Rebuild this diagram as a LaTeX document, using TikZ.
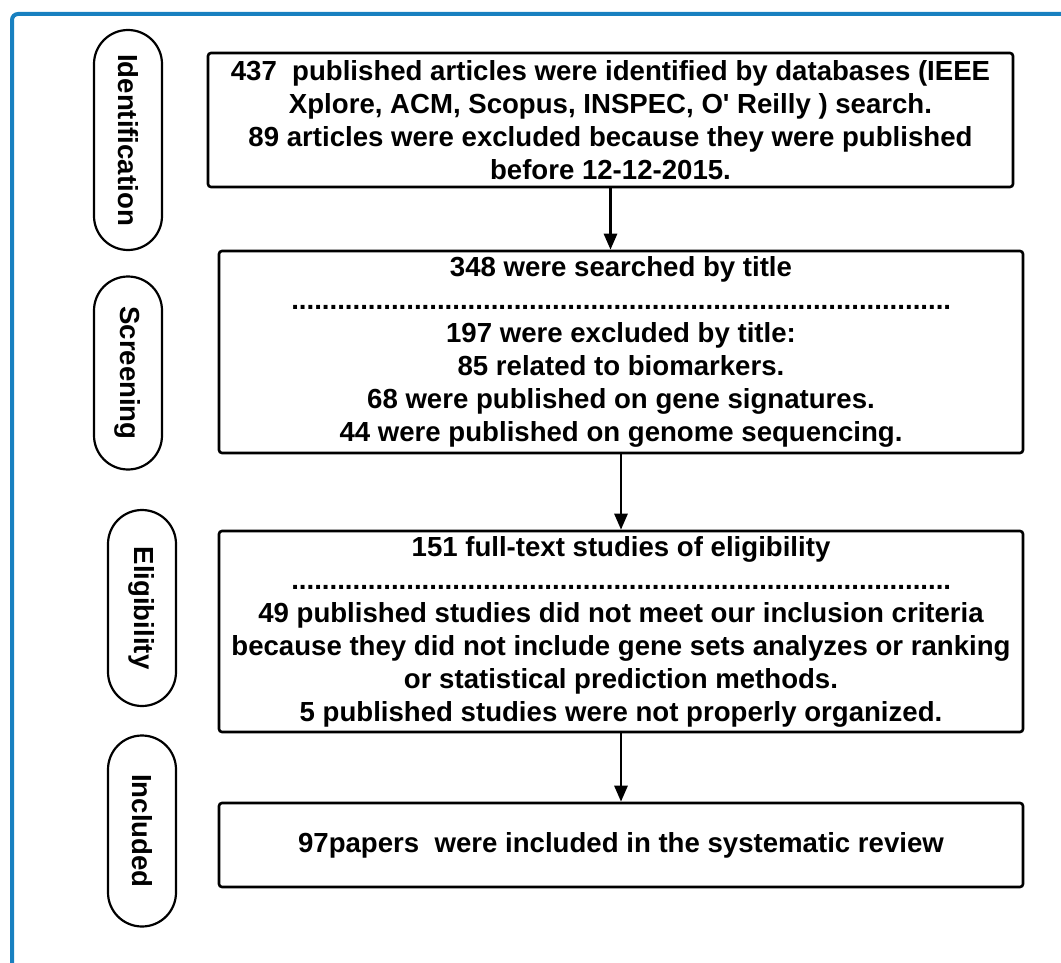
\documentclass[tikz,border=0pt]{standalone}
\usepackage{fontspec}
\setmainfont{Liberation Sans}
\usetikzlibrary{arrows.meta}
\definecolor{frameblue}{RGB}{24,128,192}
\tikzset{
  x=1pt, y=-1pt,
  txt/.style={font=\bfseries\fontsize{27.6}{33}\selectfont, align=center},
  stagebox/.style={draw, line width=2.6pt, rounded corners=3pt, txt, inner sep=0pt},
  phase/.style={draw, line width=2.2pt, rounded corners=34pt, rotate=-90,
    minimum height=68pt, txt, inner sep=0pt},
  flow/.style={line width=2.8pt, -{Triangle[length=16pt,width=13pt]}}
}
\newcommand{\dotrow}{......................................................................................}
\begin{document}
\begin{tikzpicture}
\useasboundingbox (0,0) rectangle (1061,963);
% outer frame, cut off at the right and bottom edges
\draw[frameblue, line width=4pt, rounded corners=6pt] (12,14) rectangle (1090,1000);

% phase labels
\node[phase, minimum width=220pt] (pid) at (128,140) {Identification};
\node[phase, minimum width=193pt] (psc) at (128,373) {Screening};
\node[phase, minimum width=196pt] (pel) at (142,608) {Eligibility};
\node[phase, minimum width=191pt] (pin) at (142,831) {Included};

% flow boxes
\node[stagebox, minimum width=805pt, minimum height=134pt] (b1) at (610.5,120)
  {437\ \ published articles were identified by databases (IEEE\\
   Xplore, ACM, Scopus, INSPEC, O\textquotesingle\ Reilly ) search.\\
   89 articles were excluded because they were published\\
   before 12-12-2015.};
\node[stagebox, minimum width=804pt, minimum height=202pt] (b2) at (621,352)
  {348 were searched by title\\
   \dotrow\\
   197 were excluded by title:\\
   85 related to biomarkers.\\
   68 were published on gene signatures.\\
   44 were published on genome sequencing.};
\node[stagebox, minimum width=804pt, minimum height=201pt] (b3) at (621,631.5)
  {151 full-text studies of eligibility\\
   \dotrow\\
   49 published studies did not meet our inclusion criteria\\
   because they did not include gene sets analyzes or ranking\\
   or statistical prediction methods.\\
   5 published studies were not properly organized.};
\node[stagebox, minimum width=804pt, minimum height=84pt] (b4) at (621,845)
  {97papers\ \ were included in the systematic review};

% connectors
\draw[flow] (b1.south) -- (b1.south |- b2.north);
\draw[flow] (b2.south) -- (b3.north);
\draw[flow] (b3.south) -- (b4.north);
\end{tikzpicture}
\end{document}
